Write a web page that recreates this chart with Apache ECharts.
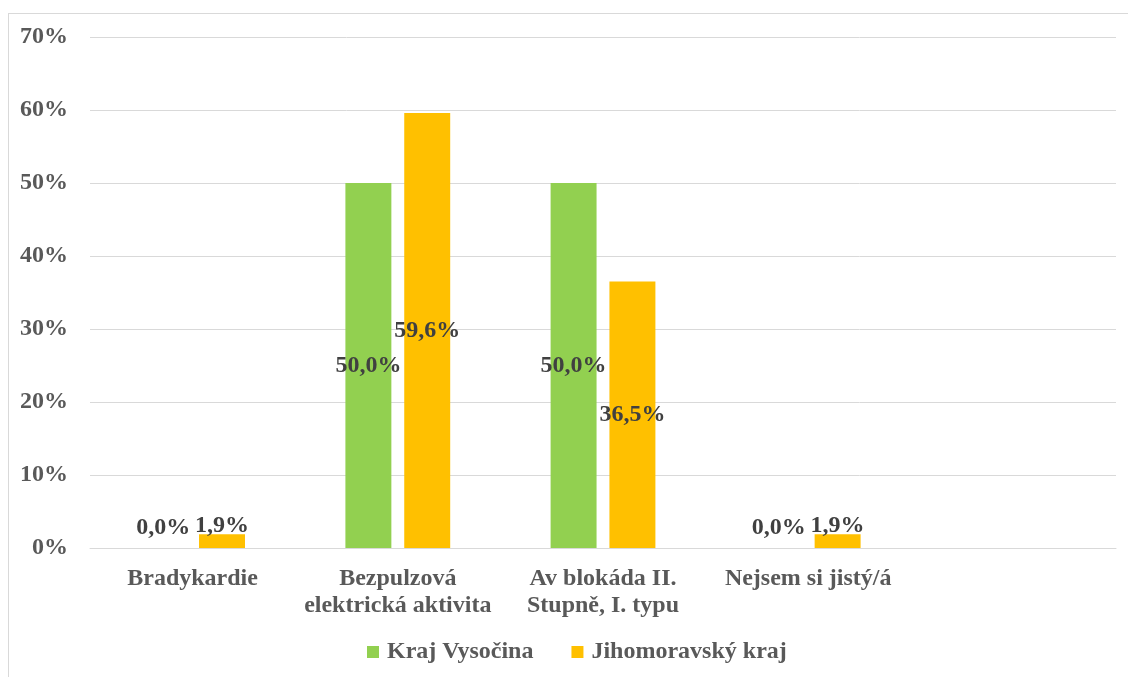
<!DOCTYPE html>
<html><head><meta charset="utf-8">
<script src="https://cdn.jsdelivr.net/npm/echarts@6/dist/echarts.min.js"></script>
<style>
html,body{margin:0;padding:0;background:#fff;}
#frame{position:absolute;left:8px;top:13px;width:1200px;height:700px;border-left:1px solid #d9d9d9;border-top:1px solid #d9d9d9;}
#c{position:absolute;left:0;top:0;width:1128px;height:677px;}
</style></head>
<body>
<div id="frame"></div>
<div id="c"></div>
<script>
const categories = ['Bradykardie', 'Bezpulzová\nelektrická aktivita', 'Av blokáda II.\nStupně, I. typu', 'Nejsem si jistý/á', ''];
const seriesNames = ['Kraj Vysočina', 'Jihomoravský kraj'];
const vysocina = [0.0, 50.0, 50.0, 0.0, null];
const jihomoravsky = [1.9, 59.6, 36.5, 1.9, null];
const yTicks = [0, 10, 20, 30, 40, 50, 60, 70];

const font = '"Liberation Serif", "Times New Roman", serif';
const FS = 24;
function fmt(v){ return v.toFixed(1).replace('.', ',') + '%'; }
function mkData(arr){
  return arr.map(v => {
    if (v === null) return null;
    if (v < 5) {
      return { value: v, label: { position: 'top', distance: 0, offset: [0, v === 0 ? -8 : 4] } };
    }
    return { value: v, label: { position: 'inside' } };
  });
}
const lbl = { show: true, fontFamily: font, fontWeight: 'bold', fontSize: FS, color: '#404040',
  formatter: p => fmt(p.value) };

const chart = echarts.init(document.getElementById('c'));
chart.setOption({
  animation: false,
  grid: { left: 90, right: 12, top: 37, bottom: 129, containLabel: false },
  legend: {
    top: 635, left: 362, itemWidth: 12, itemHeight: 12, itemGap: 38,
    icon: 'rect',
    textStyle: { fontFamily: font, fontWeight: 'bold', fontSize: FS, color: '#595959', padding: [0, 0, 0, 3] },
    data: seriesNames
  },
  xAxis: {
    type: 'category', data: categories,
    axisLine: { show: true, lineStyle: { color: '#d9d9d9', width: 1 } },
    axisTick: { show: false },
    axisLabel: { interval: 0, margin: 17, lineHeight: 27, fontFamily: font, fontWeight: 'bold', fontSize: FS, color: '#595959' }
  },
  yAxis: {
    type: 'value', min: 0, max: 70, interval: 10,
    axisLine: { show: false }, axisTick: { show: false },
    splitLine: { lineStyle: { color: '#d9d9d9', width: 1 } },
    axisLabel: { margin: 22, fontFamily: font, fontWeight: 'bold', fontSize: FS, color: '#595959',
      formatter: v => yTicks.includes(v) ? v + '%' : '' }
  },
  series: [
    { name: seriesNames[0], type: 'bar', data: mkData(vysocina), barWidth: '22.4%', barGap: '28%',
      itemStyle: { color: '#92d050' }, label: lbl },
    { name: seriesNames[1], type: 'bar', data: mkData(jihomoravsky), barWidth: '22.4%', barGap: '28%',
      itemStyle: { color: '#ffc000' }, label: lbl }
  ]
});
</script>
</body></html>
